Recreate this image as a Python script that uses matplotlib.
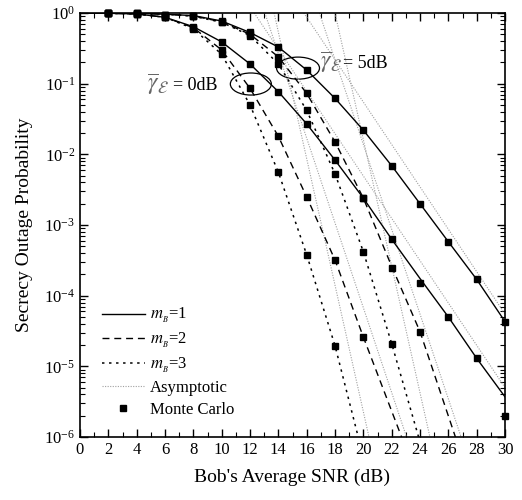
import matplotlib
matplotlib.use('Agg')
import matplotlib.pyplot as plt
from matplotlib.patches import Ellipse
from matplotlib.lines import Line2D
from matplotlib.ticker import MultipleLocator, LogLocator, NullFormatter

plt.rcParams['font.family'] = ['Liberation Serif', 'DejaVu Serif']
plt.rcParams['mathtext.fontset'] = 'stix'

# exact curves (2 dB steps + point where curve leaves the plot)
snr_m1 = [0, 2, 4, 6, 8, 10, 12, 14, 16, 18, 20, 22, 24, 26, 28, 30]
e0_m1 = [0.998, 0.99, 0.97, 0.87, 0.64, 0.39, 0.19, 0.077, 0.027, 0.0083,
         0.0024, 6.3e-4, 1.75e-4, 5e-5, 1.3e-5, 3.7e-6]
e5_m1 = [1.0, 0.998, 0.99, 0.96, 0.92, 0.77, 0.53, 0.33, 0.156, 0.062,
         0.022, 0.0069, 0.002, 5.8e-4, 1.7e-4, 4.3e-5]

snr_e0_m2 = [0, 2, 4, 6, 8, 10, 12, 14, 16, 18, 20, 22.7]
e0_m2 = [0.998, 0.99, 0.97, 0.87, 0.62, 0.30, 0.086, 0.018, 0.0025, 3.2e-4, 2.6e-5, 1e-6]
snr_e5_m2 = [0, 2, 4, 6, 8, 10, 12, 14, 16, 18, 20, 22, 24, 26.5]
e5_m2 = [1.0, 0.998, 0.99, 0.96, 0.91, 0.75, 0.5, 0.24, 0.073, 0.015, 0.0024, 2.6e-4, 3.1e-5, 1e-6]

snr_e0_m3 = [0, 2, 4, 6, 8, 10, 12, 14, 16, 18, 19.64]
e0_m3 = [0.998, 0.99, 0.97, 0.87, 0.6, 0.26, 0.05, 0.0056, 3.8e-4, 1.96e-5, 1e-6]
snr_e5_m3 = [0, 2, 4, 6, 8, 10, 12, 14, 16, 18, 20, 22, 23.9]
e5_m3 = [1.0, 0.998, 0.99, 0.96, 0.9, 0.74, 0.48, 0.19, 0.042, 0.0053, 4.2e-4, 2.1e-5, 1e-6]

# asymptotes: two points each (where they enter / leave the plot)
asym_x = [[12.3, 30], [15.8, 30], [13.05, 23.05], [16.9, 26.9], [13.7, 20.4], [18.0, 24.7]]
asym_y = [[1, 5e-6], [1, 5.5e-5], [1, 1e-6], [1, 1e-6], [1, 1e-6], [1, 1e-6]]

# Monte Carlo points
mc_x = [2, 4, 6, 8, 10, 12, 14, 16, 18, 20, 22, 24, 26, 28, 30]
mc_e0_m1 = [0.99, 0.97, 0.87, 0.64, 0.39, 0.19, 0.077, 0.027, 0.0083, 0.0024,
            6.3e-4, 1.5e-4, 5e-5, 1.3e-5, 2e-6]
mc_e5_m1 = [0.998, 0.99, 0.95, 0.92, 0.77, 0.53, 0.33, 0.156, 0.062, 0.022,
            0.0069, 0.002, 5.8e-4, 1.7e-4, 4.3e-5]
mc_e0_m2 = [0.99, 0.97, 0.87, 0.62, 0.30, 0.086, 0.018, 0.0025, 3.2e-4, 2.6e-5]
mc_e5_m2 = [0.998, 0.99, 0.95, 0.91, 0.75, 0.5, 0.24, 0.073, 0.015, 0.0024, 2.5e-4, 3.1e-5]
mc_e0_m3 = [0.99, 0.97, 0.87, 0.6, 0.26, 0.05, 0.0056, 3.8e-4, 1.96e-5]
mc_e5_m3 = [0.998, 0.99, 0.95, 0.9, 0.74, 0.48, 0.19, 0.042, 0.0053, 4.2e-4, 2.1e-5]

ls_m1 = '-'
ls_m2 = (0, (5, 3.5))
ls_m3 = (0, (1.6, 3))
ls_asym = (0, (1, 1.3))
gray = '#a0a0a0'

fig = plt.figure(figsize=(5.22, 5.0), dpi=100)
ax = fig.add_axes([80 / 522, 1 - 437 / 500, 425 / 522, 424 / 500])

for xs, ys in zip(asym_x, asym_y):
    ax.plot(xs, ys, color=gray, lw=0.8, linestyle=ls_asym)

ax.plot(snr_m1, e0_m1, 'k', lw=1.0, linestyle=ls_m1)
ax.plot(snr_m1, e5_m1, 'k', lw=1.0, linestyle=ls_m1)
ax.plot(snr_e0_m2, e0_m2, 'k', lw=1.0, linestyle=ls_m2)
ax.plot(snr_e5_m2, e5_m2, 'k', lw=1.0, linestyle=ls_m2)
ax.plot(snr_e0_m3, e0_m3, 'k', lw=1.1, linestyle=ls_m3)
ax.plot(snr_e5_m3, e5_m3, 'k', lw=1.1, linestyle=ls_m3)

for ys in [mc_e0_m1, mc_e5_m1, mc_e0_m2, mc_e5_m2, mc_e0_m3, mc_e5_m3]:
    ax.plot(mc_x[:len(ys)], ys, 'ks', ms=4.3, ls='none', zorder=5, clip_on=False)

ax.set_yscale('log')
ax.set_xlim(0, 30)
ax.set_ylim(1e-6, 1)
ax.xaxis.set_major_locator(MultipleLocator(2))
ax.xaxis.set_minor_locator(MultipleLocator(1))
ax.yaxis.set_minor_locator(LogLocator(base=10, subs=range(2, 10)))
ax.yaxis.set_minor_formatter(NullFormatter())
ax.tick_params(which='both', direction='in', top=True, right=True, labelsize=12)
ax.tick_params(which='major', length=6, width=1)
ax.tick_params(which='minor', length=3.5, width=0.8)
for s in ax.spines.values():
    s.set_linewidth(1.2)

ax.set_xlabel("Bob's Average SNR (dB)", fontsize=14, labelpad=8)
ax.set_ylabel('Secrecy Outage Probability', fontsize=14, labelpad=8)

# ellipses marking the two eavesdropper SNR groups
ax.add_patch(Ellipse((0.402, 0.8325), 0.0965, 0.052, transform=ax.transAxes,
                     fill=False, ec='k', lw=0.9))
ax.add_patch(Ellipse((0.513, 0.870), 0.101, 0.052, transform=ax.transAxes,
                     fill=False, ec='k', lw=0.9))

gtxt = r'$\overline{\gamma}_{\mathcal{E}}$'
fig.text(147 / 522, 1 - 90 / 500, gtxt, color='#666666', fontsize=17, va='baseline')
fig.text(173 / 522, 1 - 90 / 500, '= 0dB', fontsize=13, va='baseline')
fig.text(320 / 522, 1 - 68 / 500, gtxt, color='#666666', fontsize=17, va='baseline')
fig.text(343 / 522, 1 - 68 / 500, '= 5dB', fontsize=13, va='baseline')

handles = [
    Line2D([], [], color='k', lw=1.0, linestyle=ls_m1),
    Line2D([], [], color='k', lw=1.0, linestyle=ls_m2),
    Line2D([], [], color='k', lw=1.1, linestyle=ls_m3),
    Line2D([], [], color=gray, lw=0.8, linestyle=ls_asym),
    Line2D([], [], color='k', marker='s', ms=4.3, ls='none'),
]
labels = [r'$m_{_B}$=1', r'$m_{_B}$=2', r'$m_{_B}$=3', 'Asymptotic', 'Monte Carlo']
ax.legend(handles, labels, loc='lower left', bbox_to_anchor=(0.035, 0.03),
          frameon=False, fontsize=12, handlelength=2.6, handletextpad=0.3,
          labelspacing=0.33, borderaxespad=0)

fig.savefig('out.png', dpi=100)
